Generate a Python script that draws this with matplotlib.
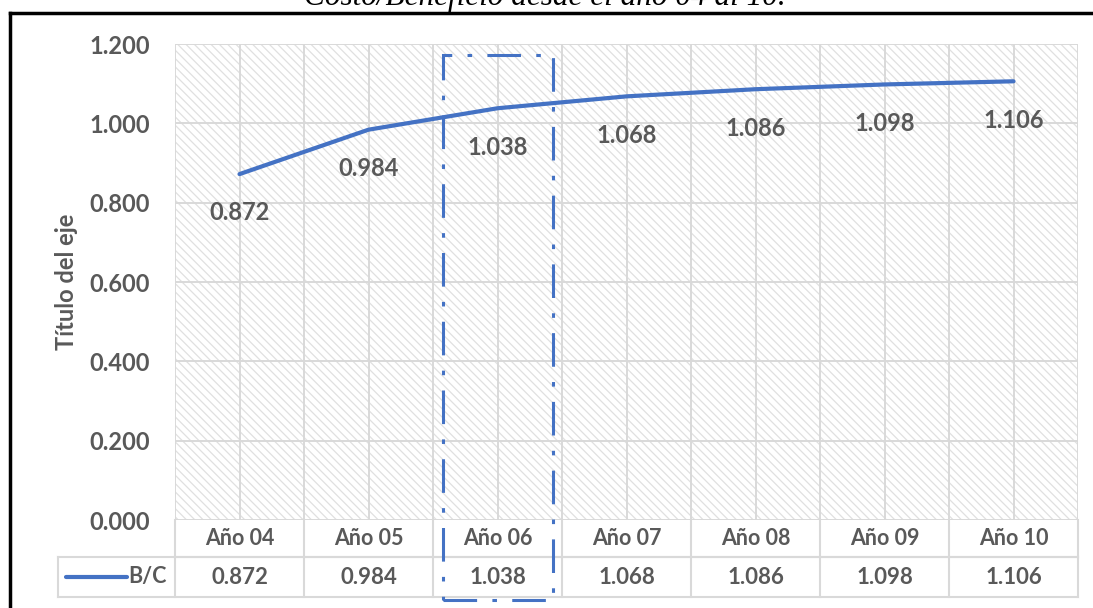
import numpy as np
import matplotlib
matplotlib.use("Agg")
import matplotlib.pyplot as plt
from matplotlib.lines import Line2D
from matplotlib.patches import Rectangle
import matplotlib.transforms as mtransforms

# data
years = ['Año 04', 'Año 05', 'Año 06', 'Año 07', 'Año 08', 'Año 09', 'Año 10']
bc = [0.872, 0.984, 1.038, 1.068, 1.086, 1.098, 1.106]
yticks = [0.0, 0.2, 0.4, 0.6, 0.8, 1.0, 1.2]
series_name = 'B/C'
title = 'Costo/Beneficio desde el año 04 al 10.'
ylabel = 'Título del eje'

blue = '#4472C4'
txt = '#595959'
grid = '#d9d9d9'
plt.rcParams['font.family'] = ['Lato', 'DejaVu Sans']
plt.rcParams['hatch.linewidth'] = 0.9

W, H = 1093, 608
fig = plt.figure(figsize=(W / 100, H / 100), dpi=100)
ax = fig.add_axes([175 / W, (H - 520) / H, 903 / W, 476 / H])

n = len(years)
x = np.arange(n)
ax.set_xlim(-0.5, n - 0.5)
ax.set_ylim(0, 1.2)

# hatched background
ax.add_patch(Rectangle((0, 0), 1, 1, transform=ax.transAxes, facecolor='white',
                       edgecolor='#e0e0e0', hatch='\\\\\\\\', lw=0, zorder=0))

for y in yticks:
    ax.axhline(y, color=grid, lw=1.4, zorder=1)
for b in np.arange(-0.5, n, 0.5):
    ax.axvline(b, color=grid, lw=1.4, zorder=1)

ax.plot(x, bc, color=blue, lw=3, solid_capstyle='round', zorder=3)
for xi, v in zip(x, bc):
    ax.annotate(f'{v:.3f}', (xi, v), xytext=(0, -28), textcoords='offset points',
                ha='center', va='center', fontsize=17, fontweight='bold', color=txt)

for s in ax.spines.values():
    s.set_visible(False)
ax.set_xticks([])
ax.set_yticks(yticks)
ax.set_yticklabels([f'{t:.3f}' for t in yticks], fontsize=17, fontweight='bold', color=txt)
ax.tick_params(axis='y', length=0, pad=18)
ax.set_ylabel(ylabel, fontsize=17, fontweight='bold', color=txt, labelpad=8)

# data table under the axes
tr = mtransforms.blended_transform_factory(ax.transData, ax.transAxes)
px = 1 / 476.0
r0, r1, r2 = 0.0, -37 * px, -77 * px
tl = dict(color=grid, lw=1.5, transform=tr, clip_on=False)
xl = -0.5 - 117 / 129.0
ax.add_line(Line2D([-0.5, n - 0.5], [r1, r1], **tl))
ax.add_line(Line2D([xl, n - 0.5], [r1, r1], **tl))
ax.add_line(Line2D([xl, n - 0.5], [r2, r2], **tl))
ax.add_line(Line2D([xl, xl], [r1, r2], **tl))
for b in np.arange(-0.5, n, 1.0):
    ax.add_line(Line2D([b, b], [r0, r2], **tl))
for xi, yr, v in zip(x, years, bc):
    ax.text(xi, (r0 + r1) / 2, yr, transform=tr, ha='center', va='center',
            fontsize=15.5, fontweight='bold', color=txt)
    ax.text(xi, (r1 + r2) / 2, f'{v:.3f}', transform=tr, ha='center', va='center',
            fontsize=16, fontweight='bold', color=txt)
ym = (r1 + r2) / 2
ax.add_line(Line2D([xl + 8 / 129, xl + 69 / 129], [ym, ym], color=blue, lw=3,
                   solid_capstyle='round', transform=tr, clip_on=False))
ax.text(-0.5 - 8 / 129, ym, series_name, transform=tr, ha='right', va='center',
        fontsize=15.5, fontweight='bold', color=txt)

# dash-dot highlight box around Año 06
ax.add_patch(Rectangle((2 - 0.42, -80 * px), 0.85, (465 + 80) * px, transform=tr,
                       fill=False, edgecolor=blue, lw=2.2, linestyle=(0, (11, 5, 1.5, 5)),
                       clip_on=False, zorder=5))

# outer black frame and clipped title
fig.add_artist(Line2D([10 / W, 1], [1 - 13 / H, 1 - 13 / H], color='black', lw=2.5))
fig.add_artist(Line2D([10 / W, 10 / W], [0, 1 - 13 / H], color='black', lw=2.5))
fig.text(545 / W, 1 - 5 / H, title, ha='center', va='baseline', fontsize=22.5,
         style='italic', family='Liberation Serif', color='black')

fig.savefig('out.png', dpi=100)
